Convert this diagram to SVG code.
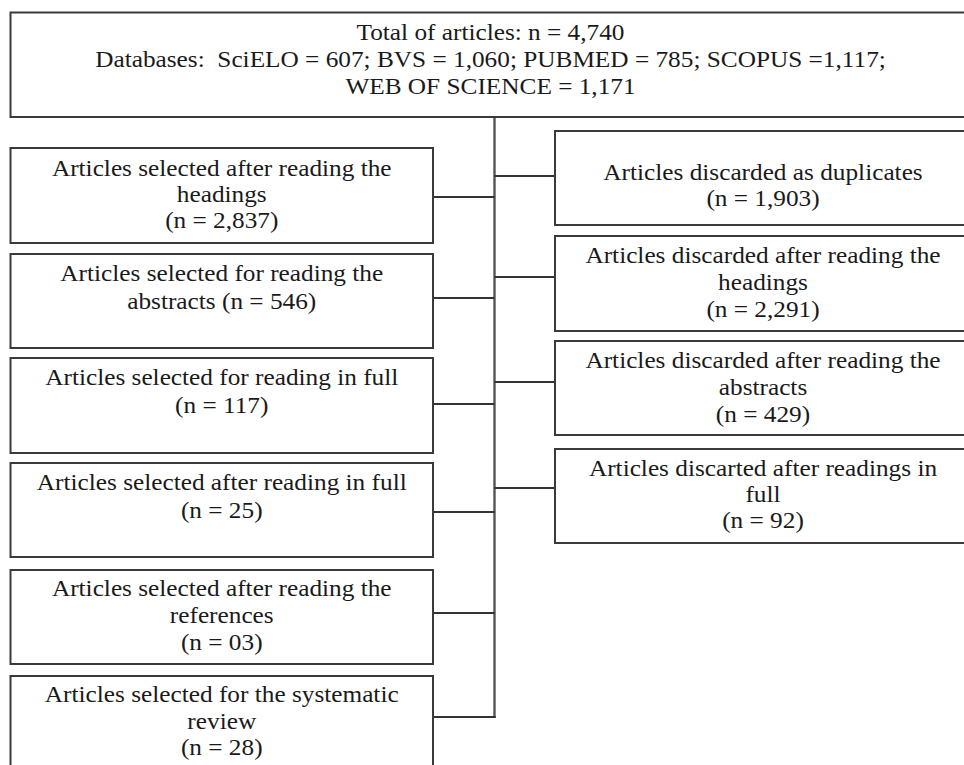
<svg xmlns="http://www.w3.org/2000/svg" width="964" height="765" viewBox="0 0 964 765">
<style>
.box{fill:#fff;stroke:#3a3a3a;stroke-width:2}
.lbl{font-family:"Liberation Serif","Times New Roman",serif;font-size:23px;fill:#1a1a1a;text-anchor:middle}
.con{stroke:#333;stroke-width:1.8;fill:none}
.trunk{stroke:#555;stroke-width:2.4;fill:none}
</style>
<rect width="964" height="765" fill="#fff"/>
<g id="connectors">
<line class="trunk" x1="494.5" y1="117" x2="494.5" y2="718"/>
<line class="con" x1="433" y1="197" x2="494.5" y2="197"/>
<line class="con" x1="433" y1="298" x2="494.5" y2="298"/>
<line class="con" x1="433" y1="404" x2="494.5" y2="404"/>
<line class="con" x1="433" y1="512" x2="494.5" y2="512"/>
<line class="con" x1="433" y1="613" x2="494.5" y2="613"/>
<line class="con" x1="433" y1="717" x2="495.7" y2="717"/>
<line class="con" x1="494.5" y1="176" x2="555" y2="176"/>
<line class="con" x1="494.5" y1="277" x2="555" y2="277"/>
<line class="con" x1="494.5" y1="382" x2="555" y2="382"/>
<line class="con" x1="494.5" y1="488" x2="555" y2="488"/>
</g>
<g id="total">
<rect class="box" x="10.5" y="12.5" width="960" height="104.5"/>
<text class="lbl" transform="translate(490.5,0) scale(1.1,1)" xml:space="preserve"><tspan x="0" y="40">Total of articles: n = 4,740</tspan><tspan x="0" y="67">Databases:  SciELO = 607; BVS = 1,060; PUBMED = 785; SCOPUS =1,117;</tspan><tspan x="0" y="94">WEB OF SCIENCE = 1,171</tspan></text>
</g>
<g id="sel-headings">
<rect class="box" x="10.5" y="148" width="422.5" height="95"/>
<text class="lbl" transform="translate(221.75,0) scale(1.1,1)"><tspan x="0" y="176">Articles selected after reading the</tspan><tspan x="0" y="202">headings</tspan><tspan x="0" y="228">(n = 2,837)</tspan></text>
</g>
<g id="sel-abstracts">
<rect class="box" x="10.5" y="254" width="422.5" height="94"/>
<text class="lbl" transform="translate(221.75,0) scale(1.1,1)"><tspan x="0" y="281">Articles selected for reading the</tspan><tspan x="0" y="309">abstracts (n = 546)</tspan></text>
</g>
<g id="sel-full">
<rect class="box" x="10.5" y="358" width="422.5" height="95"/>
<text class="lbl" transform="translate(221.75,0) scale(1.1,1)"><tspan x="0" y="385">Articles selected for reading in full</tspan><tspan x="0" y="413">(n = 117)</tspan></text>
</g>
<g id="sel-after-full">
<rect class="box" x="10.5" y="463" width="422.5" height="94"/>
<text class="lbl" transform="translate(221.75,0) scale(1.1,1)"><tspan x="0" y="490">Articles selected after reading in full</tspan><tspan x="0" y="518">(n = 25)</tspan></text>
</g>
<g id="sel-references">
<rect class="box" x="10.5" y="570" width="422.5" height="94"/>
<text class="lbl" transform="translate(221.75,0) scale(1.1,1)"><tspan x="0" y="596">Articles selected after reading the</tspan><tspan x="0" y="623">references</tspan><tspan x="0" y="650">(n = 03)</tspan></text>
</g>
<g id="sel-review">
<rect class="box" x="10.5" y="676" width="422.5" height="100"/>
<text class="lbl" transform="translate(221.75,0) scale(1.1,1)"><tspan x="0" y="702">Articles selected for the systematic</tspan><tspan x="0" y="729">review</tspan><tspan x="0" y="755">(n = 28)</tspan></text>
</g>
<g id="dis-duplicates">
<rect class="box" x="555" y="131" width="416" height="94"/>
<text class="lbl" transform="translate(763,0) scale(1.1,1)"><tspan x="0" y="180">Articles discarded as duplicates</tspan><tspan x="0" y="206">(n = 1,903)</tspan></text>
</g>
<g id="dis-headings">
<rect class="box" x="555" y="236" width="416" height="95"/>
<text class="lbl" transform="translate(763,0) scale(1.1,1)"><tspan x="0" y="263">Articles discarded after reading the</tspan><tspan x="0" y="290">headings</tspan><tspan x="0" y="317">(n = 2,291)</tspan></text>
</g>
<g id="dis-abstracts">
<rect class="box" x="555" y="341" width="416" height="94"/>
<text class="lbl" transform="translate(763,0) scale(1.1,1)"><tspan x="0" y="368">Articles discarded after reading the</tspan><tspan x="0" y="395">abstracts</tspan><tspan x="0" y="422">(n = 429)</tspan></text>
</g>
<g id="dis-full">
<rect class="box" x="555" y="449" width="416" height="94"/>
<text class="lbl" transform="translate(763,0) scale(1.1,1)"><tspan x="0" y="476">Articles discarted after readings in</tspan><tspan x="0" y="502">full</tspan><tspan x="0" y="528">(n = 92)</tspan></text>
</g>
</svg>
